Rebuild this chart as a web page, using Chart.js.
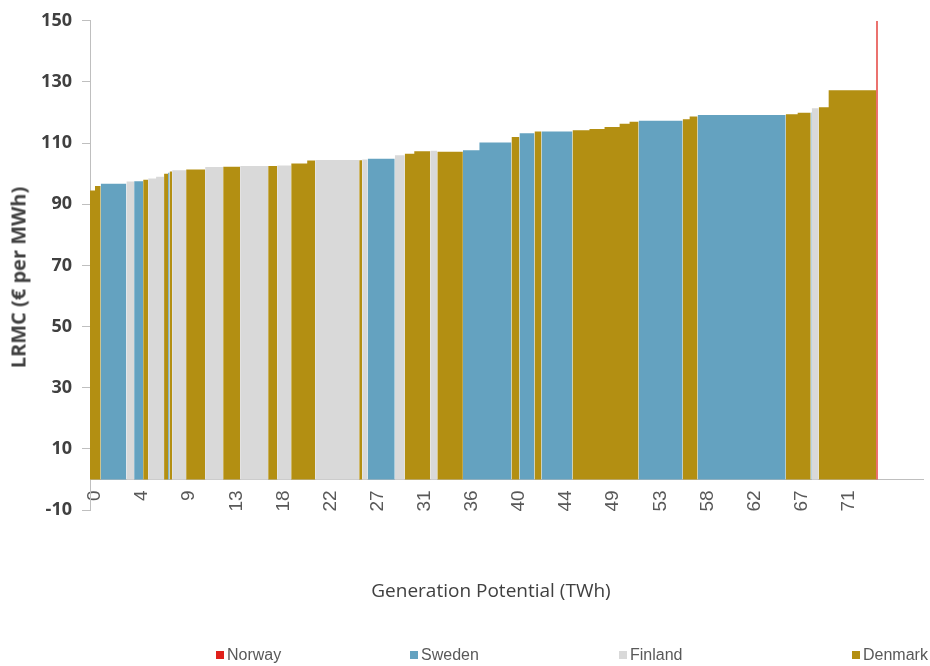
<!DOCTYPE html>
<html>
<head>
<meta charset="utf-8">
<script src="https://cdn.jsdelivr.net/npm/chart.js@4.4.0/dist/chart.umd.min.js"></script>
<style>
  html, body { margin: 0; padding: 0; background: #fff; }
  #wrap { position: relative; width: 930px; height: 666px; }
  #xTitle { position: absolute; left: 291px; width: 400px; top: 577px; text-align: center;
            font: 19px "Open Sans", sans-serif; color: #404040; }
  #yTitle { position: absolute; left: -182px; width: 400px; top: 264px; text-align: center;
            font: bold 20px "Open Sans", sans-serif; color: #404040; transform: rotate(-90deg); }
  #legend { position: absolute; left: 0; top: 645px; width: 930px; height: 20px;
            font: 16px "Liberation Sans", Arial, sans-serif; color: #595959; }
  .item { position: absolute; top: 0; height: 20px; display: flex; align-items: center; white-space: nowrap; }
  .box { width: 8px; height: 8px; margin-right: 3px; }
</style>
</head>
<body>
<div id="wrap">
  <canvas id="supplyChart" width="930" height="666"></canvas>
  <div id="yTitle">LRMC (€ per MWh)</div>
  <div id="xTitle">Generation Potential (TWh)</div>
  <div id="legend"></div>
</div>
<script>
// Supply curve segments, left to right
const segCountry = ['DK','DK','SE','FI','SE','DK','FI','FI','DK','SE',
                    'DK','FI','DK','FI','DK','FI','DK','FI','DK','DK',
                    'FI','DK','FI','SE','FI','DK','DK','FI','DK','SE',
                    'SE','DK','SE','DK','SE','DK','DK','DK','DK','DK',
                    'SE','DK','DK','SE','DK','DK','SE','FI','DK','DK',
                    'NO'];
// generation potential of each segment (TWh)
const segWidth = [0.47,0.54,2.42,0.73,0.85,0.47,0.75,0.75,0.38,0.14,
                  0.24,1.32,1.79,1.70,1.60,2.64,0.85,1.32,1.51,0.75,
                  4.15,0.28,0.52,2.55,0.94,0.90,1.51,0.66,2.41,1.56,
                  3.02,0.75,1.42,0.66,2.92,1.60,1.42,1.42,0.94,0.85,
                  4.15,0.66,0.75,8.30,1.13,1.23,0.09,0.66,0.94,4.48,
                  0.15];
// LRMC of each segment (€ per MWh)
const segLrmc = [94.5,96.0,96.7,97.4,97.5,98.0,98.4,99.0,100.0,100.3,
                 100.7,101.1,101.4,102.2,102.3,102.5,102.5,102.7,103.3,104.3,
                 104.5,104.4,104.6,104.9,106.0,106.5,107.3,107.5,107.2,107.7,
                 110.2,112.0,113.2,113.8,113.8,114.2,114.6,115.3,116.3,117.0,
                 117.3,117.8,118.7,119.2,119.4,119.9,120.0,121.4,121.7,127.3,
                 150.0];

const countryNames = { NO: 'Norway', SE: 'Sweden', FI: 'Finland', DK: 'Denmark' };
const countryColors = { NO: '#e0201b', SE: '#64a2c0', FI: '#d9d9d9', DK: '#b38f12' };
const legendOrder = ['NO', 'SE', 'FI', 'DK'];
const legendLeft = [216, 410, 619, 852];

const xTickLabels = ['0','4','9','13','18','22','27','31','36','40','44','49','53','58','62','67','71'];
const xTickStep = 4.44;
const yTicks = [-10, 10, 30, 50, 70, 90, 110, 130, 150];

// one step per segment: start of each segment, then the end of the last one
function buildPoints() {
    const pts = [];
    let x = 0;
    segLrmc.forEach((v, i) => {
        pts.push({ x: x, y: v });
        x += segWidth[i];
    });
    pts.push({ x: x, y: segLrmc[segLrmc.length - 1] });
    return pts;
}

function buildLegend() {
    const el = document.getElementById('legend');
    legendOrder.forEach((c, i) => {
        const item = document.createElement('div');
        item.className = 'item';
        item.style.left = legendLeft[i] + 'px';
        item.innerHTML = `<span class="box" style="background:${countryColors[c]}"></span>${countryNames[c]}`;
        el.appendChild(item);
    });
}

const ctx = document.getElementById('supplyChart').getContext('2d');
new Chart(ctx, {
    type: 'line',
    data: {
        datasets: [{
            label: 'LRMC',
            data: buildPoints(),
            stepped: 'before',
            fill: 'origin',
            backgroundColor: countryColors.DK,
            borderWidth: 0,
            pointRadius: 0,
            segment: {
                backgroundColor: c => countryColors[segCountry[c.p0DataIndex]]
            }
        }]
    },
    options: {
        responsive: false,
        animation: false,
        layout: { padding: { top: 18, right: 7, left: 0, bottom: 156 } },
        plugins: {
            legend: { display: false },
            tooltip: { enabled: false }
        },
        scales: {
            x: {
                type: 'linear',
                position: { y: 0 },
                min: 0,
                max: 78.5,
                afterBuildTicks: s => { s.ticks = xTickLabels.map((l, i) => ({ value: i * xTickStep })); },
                ticks: {
                    autoSkip: false,
                    minRotation: 90,
                    maxRotation: 90,
                    padding: 11,
                    labelOffset: 5,
                    color: '#595959',
                    font: { family: '"Liberation Sans"', size: 19 },
                    callback: (v, i) => xTickLabels[i]
                },
                grid: { display: false, drawTicks: false },
                border: { color: '#bfbfbf', width: 1 }
            },
            y: {
                min: -10,
                max: 150,
                afterBuildTicks: s => { s.ticks = yTicks.map(v => ({ value: v })); },
                afterFit: s => { s.width = 90; },
                ticks: {
                    color: '#404040',
                    font: { family: '"Open Sans"', size: 18, weight: 'bold' },
                    padding: 10
                },
                grid: { drawOnChartArea: false, drawTicks: true, tickLength: 8, color: '#bfbfbf' },
                border: { color: '#bfbfbf' }
            }
        }
    }
});

buildLegend();
</script>
</body>
</html>
